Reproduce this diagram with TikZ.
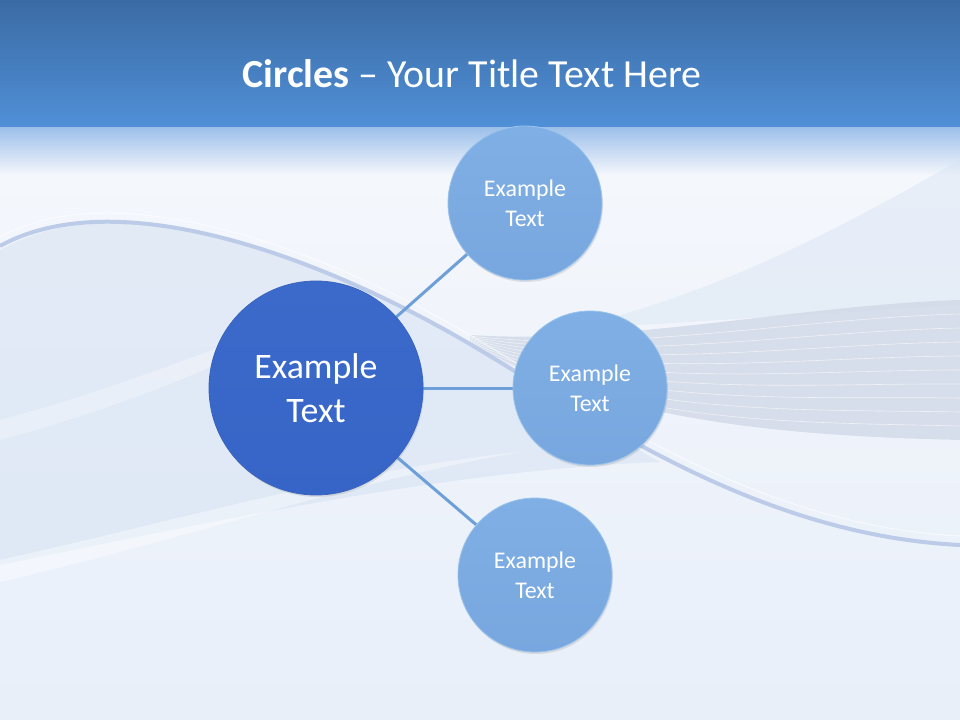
\documentclass[tikz,border=0pt]{standalone}
\usepackage{fontspec}
\setmainfont{Carlito}
\usetikzlibrary{shadows}
\definecolor{barTop}{HTML}{3B6BA4}
\definecolor{barBot}{HTML}{5090D8}
\definecolor{fadeTop}{HTML}{9EC0EA}
\definecolor{bodyTop}{HTML}{F4F7FC}
\definecolor{bodyBot}{HTML}{E8EFF9}
\definecolor{bandBlue}{HTML}{D5E1F2}
\definecolor{bandGray}{HTML}{CDD5E5}
\definecolor{waveLine}{HTML}{BCCBE7}
\definecolor{hubTop}{HTML}{3B6ACB}
\definecolor{hubBot}{HTML}{3765C7}
\definecolor{hubEdge}{HTML}{3A64BC}
\definecolor{ballTop}{HTML}{7FAFE4}
\definecolor{ballBot}{HTML}{77A7DE}
\definecolor{ballEdge}{HTML}{9AC3EC}
\definecolor{linkBlue}{HTML}{6D9FD8}
\pgfdeclarelayer{bg}
\pgfdeclarelayer{links}
\pgfsetlayers{bg,links,main}
\tikzset{
	hub/.style={circle,minimum size=214bp,inner sep=0pt,draw=hubEdge,line width=.8bp,
		top color=hubTop,bottom color=hubBot,text=white,align=center,
		font=\fontsize{36}{44}\selectfont,
		drop shadow={shadow xshift=1bp,shadow yshift=-2bp,opacity=.2}},
	ball/.style={circle,minimum size=154bp,inner sep=0pt,draw=ballEdge,line width=.8bp,
		top color=ballTop,bottom color=ballBot,text=white,align=center,
		font=\fontsize{24}{30}\selectfont,
		drop shadow={shadow xshift=1bp,shadow yshift=-2bp,opacity=.2}},
	link/.style={draw=linkBlue,line width=3bp},
	title/.style={text=white,font=\fontsize{40}{48}\selectfont}
}

\begin{document}
\begin{tikzpicture}[x=1bp,y=-1bp]
	\useasboundingbox (0,0) rectangle (960,720);

	%BACKGROUND
	\begin{pgfonlayer}{bg}
	\fill[top color=barTop,bottom color=barBot] (0,0) rectangle (960,128);
	\fill[top color=fadeTop,bottom color=bodyTop] (0,128) rectangle (960,175);
	\fill[top color=bodyTop,bottom color=bodyBot] (0,175) rectangle (960,720);
	%left blue band
	\fill[bandBlue,opacity=.55] (0,250) .. controls (120,180) and (330,260) .. (480,350)
		.. controls (560,398) and (620,440) .. (660,462)
		.. controls (450,470) and (220,520) .. (0,565) -- cycle;
	%top right sweep
	\fill[bandBlue,opacity=.4] (960,160) .. controls (820,240) and (700,300) .. (560,330)
		-- (960,305) -- cycle;
	%grey band with fine lines
	\fill[bandGray,opacity=.7] (470,335) .. controls (620,345) and (800,305) .. (960,300)
		-- (960,440) .. controls (800,436) and (620,425) .. (470,345) -- cycle;
	\foreach \k in {1,...,9}
		\draw[white,opacity=.6,line width=.6bp] (470,{335+\k}) .. controls (620,{345+9*\k}) and (800,{305+13*\k}) .. (960,{300+14*\k});
	%white streaks
	\fill[white,opacity=.4] (0,560) .. controls (200,515) and (350,470) .. (520,452)
		.. controls (350,482) and (200,535) .. (0,582) -- cycle;
	\fill[white,opacity=.3] (0,420) .. controls (150,380) and (250,330) .. (360,300)
		.. controls (250,350) and (150,400) .. (0,440) -- cycle;
	%wave line
	\draw[waveLine,line width=4bp] (0,246) .. controls (120,180) and (330,260) .. (480,350)
		.. controls (600,422) and (760,535) .. (960,545);
	\draw[white,opacity=.6,line width=1bp] (0,237) .. controls (120,172) and (330,251) .. (480,341)
		.. controls (600,413) and (760,526) .. (960,536);
	\end{pgfonlayer}

	%TITLE
	\node[title,anchor=base] (head) at (472,88) {\textbf{Circles} – Your Title Text Here};

	%CIRCLES
	\node[hub]  (core)  at (316,388) {Example\\Text};
	\node[ball] (upper) at (525,203) {Example\\Text};
	\node[ball] (side)  at (590,388) {Example\\Text};
	\node[ball] (lower) at (535,575) {Example\\Text};

	%LINKS
	\begin{pgfonlayer}{links}
	\draw[link] (core) -- (upper);
	\draw[link] (core) -- (side);
	\draw[link] (core) -- (lower);
	\end{pgfonlayer}
\end{tikzpicture}
\end{document}
